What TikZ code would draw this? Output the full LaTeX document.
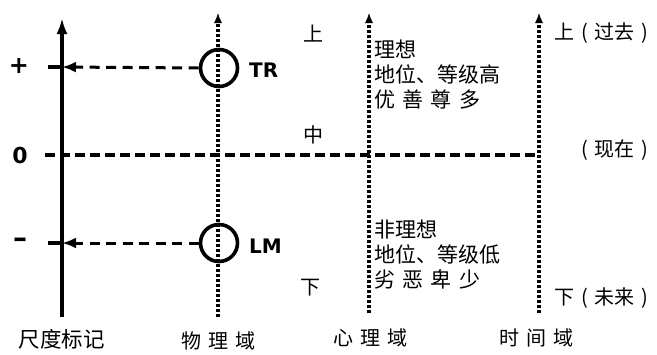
\documentclass[tikz,border=0pt]{standalone}
\usepackage{fontspec}
\setmainfont{Noto Sans CJK SC}
\newfontfamily\latb{DejaVu Sans}
\usetikzlibrary{arrows.meta}
\tikzset{
  axisline/.style={line width=4pt},
  dashln/.style={line width=3pt, dash pattern=on 10pt off 6.5pt},
  zeroln/.style={line width=4pt, dash pattern=on 10pt off 5pt},
  dotln/.style={line width=3.2pt, dash pattern=on 2.8pt off 2.2pt},
  ring/.style={circle, draw, line width=3.6pt, minimum size=37pt, inner sep=0pt},
  bigtip/.style={-{Latex[length=16pt,width=11pt]}},
  midtip/.style={-{Latex[length=14pt,width=11pt]}},
  smalltip/.style={-{Latex[length=10pt,width=8pt]}},
  cjk/.style={font=\fontsize{20}{24}\selectfont, inner sep=0pt},
  lbl/.style={font=\latb\bfseries\fontsize{20}{24}\selectfont, inner sep=0pt},
  blk/.style={font=\fontsize{21}{25}\selectfont, inner sep=0pt, anchor=west, align=left},
}
\newcommand{\gp}{\hspace{0.35em}}
\newcommand{\pgap}{\hspace{0.35em}}
\begin{document}
\begin{tikzpicture}[x=1pt,y=-1pt]
\useasboundingbox (0,0) rectangle (657,354);
% scale axis
\coordinate (sbot) at (62,317);
\coordinate (stop) at (62,18);
\draw[axisline, bigtip] (sbot) -- (stop);
% vertical domain lines
\coordinate (pbot) at (218,317);
\coordinate (ptop) at (218,13);
\coordinate (pmid) at (218,22);
\coordinate (ybot) at (369,313);
\coordinate (ytop) at (369,13);
\coordinate (ymid) at (369,22);
\coordinate (tbot) at (539,313);
\coordinate (ttop) at (539,13);
\coordinate (tmid) at (539,22);
\draw[dotln] (pbot) -- (pmid);
\draw[smalltip, line width=1pt] (pmid) -- (ptop);
\draw[dotln] (ybot) -- (ymid);
\draw[smalltip, line width=1pt] (ymid) -- (ytop);
\draw[dotln] (tbot) -- (tmid);
\draw[smalltip, line width=1pt] (tmid) -- (ttop);
% zero line
\coordinate (z0) at (45,155);
\coordinate (z1) at (540,155);
\draw[zeroln] (z0) -- (z1);
% circles
\node[ring] (tr) at (219,68) {};
\node[ring] (lm) at (219,243) {};
% ticks and arrows
\coordinate (pt0) at (48,67);
\coordinate (pt1) at (62,67);
\coordinate (mt0) at (48,243);
\coordinate (mt1) at (62,243);
\draw[line width=4pt] (pt0) -- (pt1);
\draw[line width=4pt] (mt0) -- (mt1);
\draw[dashln, midtip] (tr.west) -- (pt1);
\draw[dashln, midtip] (lm.west) -- (mt1);
% left labels
\node[lbl, font=\latb\bfseries\fontsize{24}{26}\selectfont] (plus) at (19,66) {+};
\node[lbl, font=\latb\bfseries\fontsize{22}{26}\selectfont] (zero) at (20,155) {0};
\node[lbl, font=\latb\bfseries\fontsize{28}{30}\selectfont] (minus) at (20,243) {\textendash};
\node[lbl, anchor=west] (trl) at (249,70) {TR};
\node[lbl, anchor=west] (lml) at (249,246) {LM};
% up/mid/down
\node[cjk] (up) at (313,34) {上};
\node[cjk] (mid) at (313,135) {中};
\node[cjk] (down) at (310,288) {下};
% text blocks
\node[blk] (hi) at (374,75) {理想\\地位、等级高\\优\gp 善\gp 尊\gp 多};
\node[blk] (lo) at (374,255) {非理想\\地位、等级低\\劣\gp 恶\gp 卑\gp 少};
% time labels
\node[cjk, anchor=west] (past) at (554,33) {上\pgap(\pgap 过去\pgap)};
\node[cjk, anchor=west] (now) at (581,150) {(\pgap 现在\pgap)};
\node[cjk, anchor=west] (fut) at (554,298) {下\pgap(\pgap 未来\pgap)};
% bottom labels
\node[cjk, font=\fontsize{21.5}{24}\selectfont] (b1) at (62,339) {尺度标记};
\node[cjk] (b2) at (218,341) {物\gp 理\gp 域};
\node[cjk] (b3) at (370,338) {心\gp 理\gp 域};
\node[cjk] (b4) at (536,338) {时\gp 间\gp 域};
\end{tikzpicture}
\end{document}
